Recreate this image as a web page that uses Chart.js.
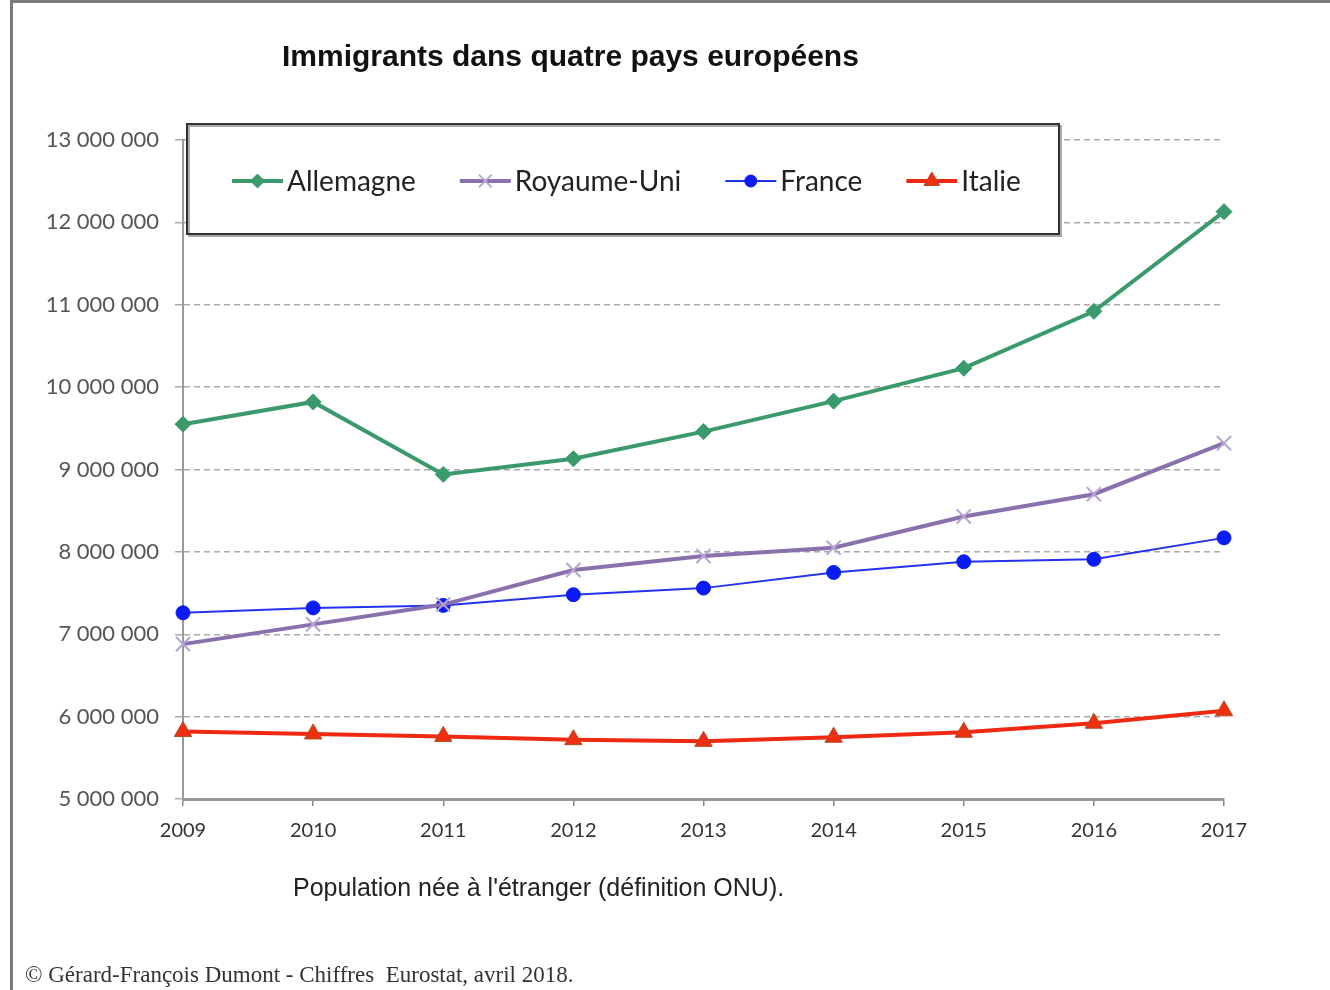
<!DOCTYPE html>
<html>
<head>
<meta charset="utf-8">
<script src="https://cdn.jsdelivr.net/npm/chart.js@4.4.1/dist/chart.umd.min.js"></script>
<style>
  html, body { margin: 0; padding: 0; background: #fff; }
  #wrap { position: relative; width: 1330px; height: 990px; }
</style>
</head>
<body>
<div id="wrap"><canvas id="c"></canvas></div>
<script>
const years = ['2009','2010','2011','2012','2013','2014','2015','2016','2017'];
const allemagne   = [9550000, 9820000, 8940000, 9130000, 9460000, 9830000, 10230000, 10920000, 12130000];
const royaumeUni  = [6880000, 7120000, 7360000, 7780000, 7950000, 8050000, 8430000, 8700000, 9320000];
const france      = [7260000, 7320000, 7350000, 7480000, 7560000, 7750000, 7880000, 7910000, 8170000];
const italie      = [5820000, 5790000, 5760000, 5720000, 5700000, 5750000, 5810000, 5920000, 6070000];
const yTickMin = 5000000, yTickMax = 13000000, yTickStep = 1000000;
const titleText = 'Immigrants dans quatre pays européens';
const subtitleText = "Population née à l'étranger (définition ONU).";
const footerText = '© Gérard-François Dumont - Chiffres  Eurostat, avril 2018.';

function fmt(v) { return String(v).replace(/\B(?=(\d{3})+(?!\d))/g, ' '); }

const decor = {
  id: 'decor',
  beforeDraw(chart) {
    const ctx = chart.ctx;
    ctx.save();
    ctx.fillStyle = '#fff';
    ctx.fillRect(0, 0, chart.width, chart.height);
    ctx.strokeStyle = '#7a7a7a';
    ctx.lineWidth = 3;
    ctx.beginPath();
    ctx.moveTo(10, 1.5); ctx.lineTo(chart.width, 1.5);
    ctx.moveTo(11.5, 0); ctx.lineTo(11.5, chart.height);
    ctx.stroke();
    ctx.restore();
  },
  afterDraw(chart) {
    const ctx = chart.ctx;
    ctx.save();
    // title
    ctx.fillStyle = '#111';
    ctx.font = 'bold 30px "Liberation Sans", Arial, sans-serif';
    ctx.textAlign = 'left';
    ctx.textBaseline = 'middle';
    ctx.fillText(titleText, 282, 58);
    // subtitle
    ctx.fillStyle = '#222';
    ctx.font = '25px "Liberation Sans", Arial, sans-serif';
    ctx.fillText(subtitleText, 293, 889);
    // footer
    ctx.fillStyle = '#333';
    ctx.font = '23px "Liberation Serif", "Times New Roman", serif';
    ctx.fillText(footerText, 25, 976);

    // legend box
    const bx = 187, by = 124, bw = 872, bh = 110;
    ctx.fillStyle = '#fff';
    ctx.fillRect(bx, by, bw, bh);
    ctx.strokeStyle = '#aaa';
    ctx.lineWidth = 2;
    ctx.strokeRect(bx + 2, by + 2, bw, bh);
    ctx.strokeStyle = '#333';
    ctx.lineWidth = 2;
    ctx.strokeRect(bx, by, bw, bh);

    ctx.font = '28px Lato, "Open Sans", sans-serif';
    const ly = 181;
    const sampleW = 51, textGap = 4, itemGap = 44;
    let x = 232;
    chart.data.datasets.forEach((ds) => {
      ctx.strokeStyle = ds.borderColor;
      ctx.lineWidth = ds.borderWidth;
      ctx.beginPath();
      ctx.moveTo(x, ly); ctx.lineTo(x + sampleW, ly);
      ctx.stroke();
      ctx.save();
      ctx.fillStyle = ds.pointBackgroundColor;
      ctx.strokeStyle = ds.pointBorderColor;
      ctx.lineWidth = ds.pointBorderWidth;
      Chart.helpers.drawPoint(ctx, {
        pointStyle: ds.pointStyle, rotation: 0, radius: ds.pointRadius - 1,
        borderWidth: ds.pointBorderWidth
      }, x + sampleW / 2, ly);
      ctx.restore();
      ctx.fillStyle = '#222';
      ctx.textAlign = 'left';
      ctx.textBaseline = 'middle';
      ctx.fillText(ds.label, x + sampleW + textGap, ly + 1);
      x += sampleW + textGap + ctx.measureText(ds.label).width + itemGap;
    });
    ctx.restore();
  }
};

new Chart(document.getElementById('c'), {
  type: 'line',
  data: {
    labels: years,
    datasets: [
      { label: 'Allemagne', data: allemagne, borderColor: '#3a9a6c', borderWidth: 4,
        pointStyle: 'rectRot', pointRadius: 8, pointBackgroundColor: '#3a9a6c', pointBorderColor: '#3a9a6c', pointBorderWidth: 1, tension: 0 },
      { label: 'Royaume-Uni', data: royaumeUni, borderColor: '#8a70ad', borderWidth: 4,
        pointStyle: 'crossRot', pointRadius: 10, pointBackgroundColor: '#b6a4d2', pointBorderColor: '#b6a4d2', pointBorderWidth: 2, tension: 0 },
      { label: 'France', data: france, borderColor: '#2233ee', borderWidth: 2,
        pointStyle: 'circle', pointRadius: 7, pointBackgroundColor: '#0a1cf5', pointBorderColor: '#0a1cf5', pointBorderWidth: 1, tension: 0 },
      { label: 'Italie', data: italie, borderColor: '#ee2a12', borderWidth: 4,
        pointStyle: 'triangle', pointRadius: 10, pointBackgroundColor: '#ee3010', pointBorderColor: '#b24a20', pointBorderWidth: 1, tension: 0 }
    ]
  },
  options: {
    responsive: true,
    maintainAspectRatio: false,
    animation: false,
    devicePixelRatio: 1,
    layout: { padding: { top: 140, left: 0, right: 106, bottom: 131 } },
    plugins: { legend: { display: false }, title: { display: false }, tooltip: { enabled: false } },
    scales: {
      x: {
        offset: false,
        afterFit(s) { s.height = 60; },
        grid: { display: true, drawOnChartArea: false, drawTicks: true, tickLength: 7, color: '#888', lineWidth: 1.5 },
        border: { display: true, color: '#999', width: 3 },
        ticks: { color: '#333', font: { family: 'Lato, "Open Sans", sans-serif', size: 20 }, padding: 13, maxRotation: 0 }
      },
      y: {
        min: yTickMin, max: yTickMax,
        afterFit(s) { s.width = 183; },
        afterBuildTicks(s) {
          const t = [];
          for (let v = yTickMin; v <= yTickMax; v += yTickStep) t.push({ value: v });
          s.ticks = t;
        },
        grid: { color: '#aaa', lineWidth: 1.5, drawTicks: true, tickLength: 8 },
        border: { display: true, color: '#999', width: 2, dash: [6, 4] },
        ticks: { color: '#555', font: { family: 'Lato, "Open Sans", sans-serif', size: 22 }, padding: 16,
                 callback: (v) => fmt(v) }
      }
    }
  },
  plugins: [decor]
});
</script>
</body>
</html>
